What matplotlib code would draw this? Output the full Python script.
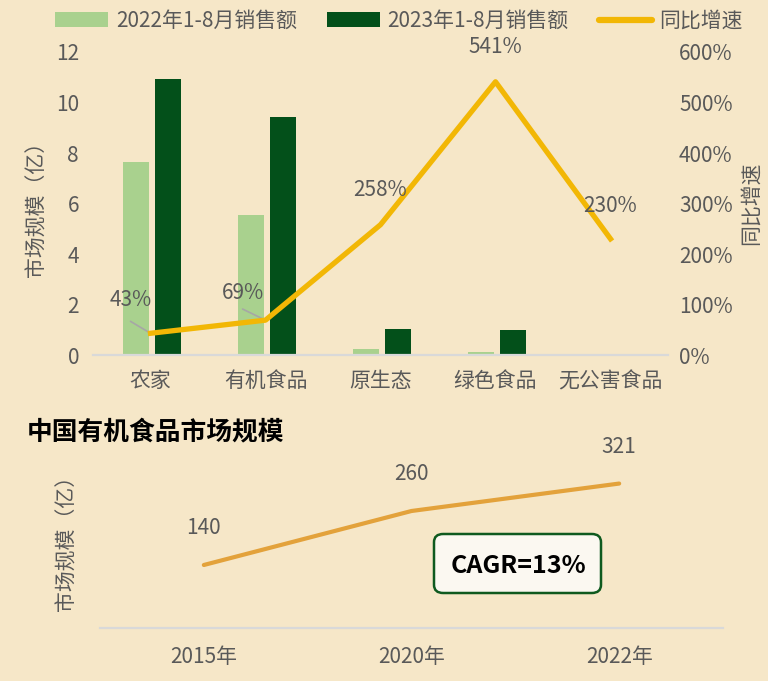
import matplotlib
matplotlib.use("Agg")
import matplotlib.pyplot as plt
from matplotlib.patches import Patch, FancyBboxPatch
from matplotlib.lines import Line2D
from matplotlib.ticker import FuncFormatter, MultipleLocator

plt.rcParams['font.family'] = ['Noto Sans CJK SC', 'DejaVu Sans']

# ---- data ----
categories = ['农家', '有机食品', '原生态', '绿色食品', '无公害食品']
sales_2022 = [7.65, 5.55, 0.25, 0.12, 0.01]
sales_2023 = [10.95, 9.42, 1.03, 0.99, 0.01]
growth = [0.43, 0.69, 2.58, 5.41, 2.30]
growth_labels = ['43%', '69%', '258%', '541%', '230%']

years = ['2015年', '2020年', '2022年']
market = [140, 260, 321]

BG = '#f6e7c8'
LIGHT = '#a9d18e'
DARK = '#03501a'
YELLOW = '#f2b705'
ORANGE = '#e3a23b'
TXT = '#595959'
BASE = '#d9d9d9'
FS = 15

fig = plt.figure(figsize=(7.68, 6.81), dpi=100, facecolor=BG)

# ---- top chart ----
ax = fig.add_axes([93/768, 1-355/681, 575/768, 303/681])
ax.set_facecolor('none')
x = list(range(len(categories)))
w = 0.226
ax.bar([i - 0.13 for i in x], sales_2022, width=w, color=LIGHT, zorder=2)
ax.bar([i + 0.148 for i in x], sales_2023, width=w, color=DARK, zorder=2)
ax.set_xlim(-0.5, 4.5)
ax.set_ylim(0, 12)
ax.yaxis.set_major_locator(MultipleLocator(2))
ax.set_xticks(x)
ax.set_xticklabels(categories)
for s in ['top', 'right', 'left']:
    ax.spines[s].set_visible(False)
ax.spines['bottom'].set_color(BASE)
ax.spines['bottom'].set_linewidth(1.6)
ax.tick_params(axis='both', length=0, labelsize=FS, colors=TXT)
ax.tick_params(axis='y', pad=10)
ax.tick_params(axis='x', pad=11)
ax.set_ylabel('市场规模（亿）', fontsize=FS, color=TXT, labelpad=6)

ax2 = ax.twinx()
ax2.set_ylim(0, 6)
ax2.yaxis.set_major_locator(MultipleLocator(1))
ax2.yaxis.set_major_formatter(FuncFormatter(lambda v, p: f'{int(round(v*100))}%'))
for s in ['top', 'right', 'left', 'bottom']:
    ax2.spines[s].set_visible(False)
ax2.tick_params(axis='y', length=0, labelsize=FS, colors=TXT, pad=8)
ax2.set_ylabel('同比增速', fontsize=FS, color=TXT, rotation=90, labelpad=5)
ax2.plot(x, growth, color=YELLOW, lw=3.8, zorder=3)

label_offsets = [(-14.5, 24), (-16, 19.5), (0, 25), (0, 25), (0, 24)]
leader_offsets = {0: (-14.4, 8.6), 1: (-16.5, 8.0)}
for i, (g, lab, off) in enumerate(zip(growth, growth_labels, label_offsets)):
    ax2.annotate(lab, (i, g), xytext=off, textcoords='offset points',
                 ha='center', va='center', fontsize=FS, color=TXT)
    if i in leader_offsets:
        ax2.annotate('', (i, g), xytext=leader_offsets[i], textcoords='offset points',
                     arrowprops=dict(arrowstyle='-', color='#a6a6a6', lw=1.2,
                                     shrinkA=0, shrinkB=0), zorder=2)

handles = [Patch(facecolor=LIGHT, edgecolor='none'),
           Patch(facecolor=DARK, edgecolor='none'),
           Line2D([0], [0], color=YELLOW, lw=4.5, solid_capstyle='round')]
fig.legend(handles, ['2022年1-8月销售额', '2023年1-8月销售额', '同比增速'],
           loc='center', bbox_to_anchor=(399/768, 1-21/681), ncol=3, frameon=False,
           fontsize=FS, labelcolor=TXT, handlelength=2.55, handleheight=0.7,
           columnspacing=1.45, handletextpad=0.35)

# ---- bottom chart ----
fig.text(27/768, 1-432/681, '中国有机食品市场规模', fontsize=18.5, fontweight='heavy',
         color='black', ha='left', va='center')

bx = fig.add_axes([100/768, 1-628/681, 623/768, 180/681])
bx.set_facecolor('none')
xi = list(range(len(years)))
bx.plot(xi, market, color=ORANGE, lw=3.0, solid_capstyle='round')
bx.set_xlim(-0.5, 2.5)
bx.set_ylim(0, 400)
bx.set_xticks(xi)
bx.set_xticklabels(years)
bx.set_yticks([])
for s in ['top', 'right', 'left']:
    bx.spines[s].set_visible(False)
bx.spines['bottom'].set_color(BASE)
bx.spines['bottom'].set_linewidth(1.6)
bx.tick_params(axis='x', length=0, labelsize=FS, colors=TXT, pad=13)
bx.set_ylabel('市场规模（亿）', fontsize=FS, color=TXT, labelpad=16)
for i, v in enumerate(market):
    bx.annotate(str(v), (i, v), xytext=(0, 26.5), textcoords='offset points',
                ha='center', va='center', fontsize=FS, color=TXT)

box = FancyBboxPatch((434/768, 1-593/681), 167/768, 59/681,
                     boxstyle='round,pad=0,rounding_size=0.012',
                     transform=fig.transFigure, facecolor='#fbf8f1',
                     edgecolor='#0f5a1f', lw=1.8, zorder=5)
fig.add_artist(box)
fig.text(518/768, 1-566/681, 'CAGR=13%', fontsize=18, fontweight='heavy',
         color='black', ha='center', va='center', zorder=6)

fig.savefig('out.png', dpi=100, facecolor=BG)
